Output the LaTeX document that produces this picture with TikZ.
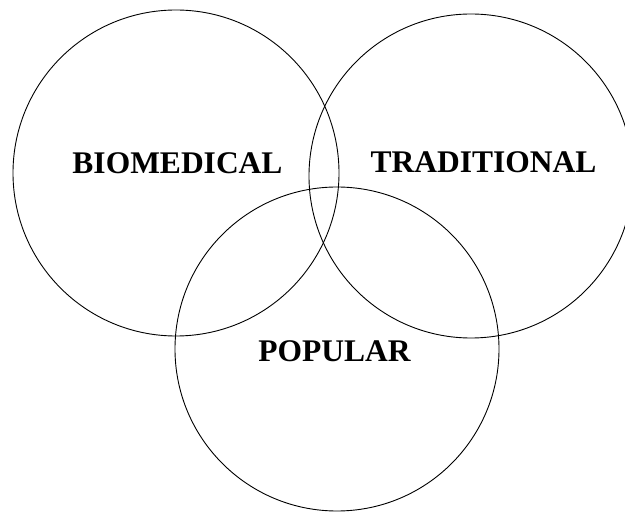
\documentclass[tikz,border=0pt]{standalone}
\usepackage{fontspec}
\setmainfont{Liberation Serif}
\begin{document}
\begin{tikzpicture}[x=1pt,y=-1pt,
  ring/.style={draw=black,line width=0.9pt},
  label/.style={anchor=base,inner sep=0pt,font=\fontsize{31.5}{36}\selectfont\bfseries}]
\useasboundingbox (0,0) rectangle (625,513);
\clip (0,0) rectangle (625,513);
% the three overlapping sectors
\draw[ring] (176,173) circle[radius=163];
\draw[ring] (471,176) circle[radius=162];
\draw[ring] (337,349) circle[radius=162];
% sector names
\node[label] (bio) at (177.5,174) {BIOMEDICAL};
\node[label] (trad) at (483.5,173) {TRADITIONAL};
\node[label] (pop) at (334.5,362) {POPULAR};
\end{tikzpicture}
\end{document}
